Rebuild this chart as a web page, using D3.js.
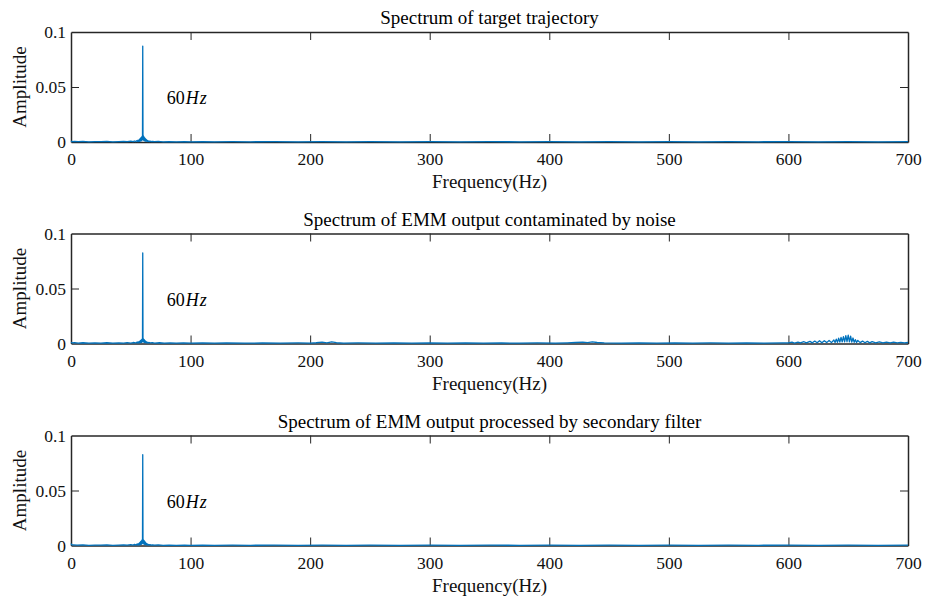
<!DOCTYPE html>
<html>
<head>
<meta charset="utf-8">
<script src="https://cdn.jsdelivr.net/npm/d3@7"></script>
<style>
  body { margin: 0; background: #fff; }
  text { font-family: "Liberation Serif", "Times New Roman", serif; }
</style>
</head>
<body>
<div id="vis"></div>
<script>
(function(){
  // panel titles
  var titles = [
    "Spectrum of target trajectory",
    "Spectrum of EMM output contaminated by noise",
    "Spectrum of EMM output processed by secondary filter"
  ];

  var xTicks = [0, 100, 200, 300, 400, 500, 600, 700];
  var yTicks = [0, 0.05, 0.1];
  var yTickLabels = ["0", "0.05", "0.1"];

  // [frequency (Hz), amplitude]
  var targetSpectrum = [
    [0,0.0008],[1,0.0004],[3,0.0006],[6,0.0003],[10,0.0005],[15,0.0002],[20,0.0004],[25,0.0003],
    [30,0.0005],[35,0.0002],[40,0.0004],[44,0.0006],[47,0.0003],[50,0.0007],[52,0.0004],[53,0.0009],
    [54,0.0004],[55,0.0012],[55.5,0.0004],[56,0.0016],[56.5,0.0005],[57,0.0022],[57.3,0.0006],
    [57.6,0.0028],[57.9,0.0008],[58.2,0.0035],[58.5,0.0010],[58.8,0.0042],[59.1,0.0012],[59.4,0.0052],
    [59.6,0.0020],[59.8,0.0065],[60,0.0872],[60.2,0.0070],[60.4,0.0022],[60.6,0.0055],[60.9,0.0014],
    [61.2,0.0045],[61.5,0.0011],[61.8,0.0036],[62.1,0.0009],[62.4,0.0028],[62.7,0.0007],[63,0.0021],
    [63.4,0.0005],[63.8,0.0015],[64.2,0.0004],[64.8,0.0010],[65.4,0.0003],[66,0.0008],[67,0.0003],
    [68,0.0006],[70,0.0003],[73,0.0005],[77,0.0002],[82,0.0004],[88,0.0002],[95,0.0003],[100,0.0002],
    [110,0.0004],[120,0.0002],[135,0.0003],[150,0.0002],[170,0.0003],[190,0.0002],[210,0.0003],
    [230,0.0002],[250,0.0003],[275,0.0002],[300,0.0003],[325,0.0002],[350,0.0003],[375,0.0002],
    [400,0.0003],[425,0.0002],[450,0.0003],[475,0.0002],[500,0.0003],[525,0.0002],[550,0.0003],
    [575,0.0002],[600,0.0003],[625,0.0002],[650,0.0003],[675,0.0002],[700,0.0003]
  ];

  var noisySpectrum = [
    [0,0.0010],[1,0.0005],[3,0.0008],[6,0.0004],[10,0.0007],[15,0.0003],[20,0.0006],[25,0.0004],
    [30,0.0007],[35,0.0003],[40,0.0006],[44,0.0004],[47,0.0008],[50,0.0004],[52,0.0009],[54,0.0005],
    [55,0.0011],[55.5,0.0005],[56,0.0014],[56.5,0.0006],[57,0.0018],[57.3,0.0006],[57.6,0.0022],
    [57.9,0.0008],[58.2,0.0027],[58.5,0.0009],[58.8,0.0032],[59.1,0.0011],[59.4,0.0040],[59.6,0.0016],
    [59.8,0.0050],[60,0.0823],[60.2,0.0055],[60.4,0.0018],[60.6,0.0042],[60.9,0.0012],[61.2,0.0034],
    [61.5,0.0010],[61.8,0.0027],[62.1,0.0008],[62.4,0.0021],[62.7,0.0007],[63,0.0016],[63.4,0.0005],
    [63.8,0.0012],[64.5,0.0005],[65,0.0010],[66,0.0005],[68,0.0008],[70,0.0004],[74,0.0007],
    [78,0.0003],[83,0.0006],[88,0.0003],[94,0.0005],[100,0.0003],[110,0.0006],[120,0.0003],[130,0.0005],
    [145,0.0003],[160,0.0005],[175,0.0003],[190,0.0005],[200,0.0004],[205,0.0007],[210,0.0012],
    [214,0.0006],[218,0.0014],[222,0.0007],[228,0.0004],[240,0.0005],[255,0.0003],[270,0.0005],
    [285,0.0003],[300,0.0005],[315,0.0003],[330,0.0005],[345,0.0003],[360,0.0005],[375,0.0003],
    [390,0.0005],[405,0.0004],[415,0.0006],[422,0.0009],[428,0.0013],[432,0.0008],[436,0.0014],
    [440,0.0009],[446,0.0005],[460,0.0004],[475,0.0006],[490,0.0003],[505,0.0005],[520,0.0003],
    [535,0.0005],[550,0.0004],[565,0.0006],[580,0.0004],[595,0.0006],
    [600,0.0006],[603,0.0012],[605,0.0004],[608,0.0013],[610,0.0005],[613,0.0016],[615,0.0005],
    [618,0.0019],[620,0.0006],[622,0.0022],[624,0.0006],[626,0.0025],[628,0.0007],[630,0.0026],
    [632,0.0008],[634,0.0028],[636,0.0008],[638,0.0032],[639,0.0009],[640,0.0040],[641,0.0010],
    [642,0.0048],[643,0.0012],[644,0.0055],[645,0.0014],[646,0.0062],[647,0.0015],[648,0.0072],
    [649,0.0016],[650,0.0076],[651,0.0015],[652,0.0066],[653,0.0013],[654,0.0050],[655,0.0011],
    [656,0.0035],[657,0.0009],[658,0.0028],[660,0.0008],[662,0.0022],[664,0.0007],[666,0.0019],
    [668,0.0006],[670,0.0017],[673,0.0006],[676,0.0015],[679,0.0005],[682,0.0013],[685,0.0005],
    [688,0.0012],[691,0.0005],[694,0.0011],[697,0.0005],[700,0.0009]
  ];

  var filteredSpectrum = [
    [0,0.0018],[0.5,0.0006],[2,0.0005],[5,0.0003],[10,0.0005],[15,0.0002],[20,0.0004],[25,0.0003],
    [30,0.0005],[35,0.0002],[40,0.0004],[44,0.0006],[47,0.0003],[50,0.0008],[52,0.0004],[53,0.0010],
    [54,0.0004],[55,0.0012],[55.5,0.0004],[56,0.0016],[56.5,0.0005],[57,0.0021],[57.3,0.0006],
    [57.6,0.0027],[57.9,0.0008],[58.2,0.0034],[58.5,0.0010],[58.8,0.0041],[59.1,0.0012],[59.4,0.0050],
    [59.6,0.0019],[59.8,0.0062],[60,0.0825],[60.2,0.0066],[60.4,0.0021],[60.6,0.0052],[60.9,0.0013],
    [61.2,0.0043],[61.5,0.0011],[61.8,0.0034],[62.1,0.0009],[62.4,0.0027],[62.7,0.0007],[63,0.0020],
    [63.4,0.0005],[63.8,0.0014],[64.2,0.0004],[64.8,0.0010],[65.4,0.0003],[66,0.0008],[67,0.0003],
    [68,0.0006],[70,0.0003],[73,0.0005],[77,0.0002],[82,0.0004],[88,0.0002],[95,0.0003],[100,0.0002],
    [110,0.0004],[120,0.0002],[135,0.0003],[150,0.0002],[170,0.0003],[190,0.0002],[210,0.0004],
    [230,0.0002],[250,0.0003],[275,0.0002],[300,0.0003],[325,0.0002],[350,0.0003],[375,0.0002],
    [400,0.0003],[425,0.0002],[450,0.0003],[475,0.0002],[500,0.0003],[525,0.0002],[550,0.0003],
    [575,0.0002],[600,0.0003],[625,0.0002],[650,0.0003],[675,0.0002],[700,0.0003]
  ];

  var series = [targetSpectrum, noisySpectrum, filteredSpectrum];

  var width = 926;
  var height = 597;
  var left = 71, right = 908;
  var panelTops = [32, 233.5, 435.5];
  var panelH = 110;
  var tickLen = 8;
  var axisColor = "#262626";
  var textColor = "#111";
  var lineColor = "#0072BD";

  var svg = d3.select("#vis")
    .append("svg")
    .attr("width", width)
    .attr("height", height);

  var x_scale = d3.scaleLinear()
    .domain([0, 700])
    .range([left, right]);

  series.forEach(function(data, i){
    var top = panelTops[i];
    var bottom = top + panelH;

    var y_scale = d3.scaleLinear()
      .domain([0, 0.1])
      .range([bottom, top]);

    var g = svg.append("g");

    // bottom + top axes (ticks pointing inward)
    var xb = g.append("g")
      .attr("transform", "translate(0," + bottom + ")")
      .call(d3.axisBottom(x_scale).tickValues(xTicks).tickSizeInner(-tickLen).tickSizeOuter(0).tickPadding(11));
    var xt = g.append("g")
      .attr("transform", "translate(0," + top + ")")
      .call(d3.axisTop(x_scale).tickValues(xTicks).tickSizeInner(-tickLen).tickSizeOuter(0).tickFormat(""));
    var yl = g.append("g")
      .attr("transform", "translate(" + left + ",0)")
      .call(d3.axisLeft(y_scale).tickValues(yTicks).tickSizeInner(-tickLen).tickSizeOuter(0)
        .tickPadding(5)
        .tickFormat(function(d, k){ return yTickLabels[k]; }));
    var yr = g.append("g")
      .attr("transform", "translate(" + right + ",0)")
      .call(d3.axisRight(y_scale).tickValues(yTicks).tickSizeInner(-tickLen).tickSizeOuter(0).tickFormat(""));

    [xb, xt, yl, yr].forEach(function(a){
      a.attr("font-family", null);
      a.select(".domain").attr("stroke", axisColor).attr("stroke-width", 1.5);
      a.selectAll(".tick line").attr("stroke", axisColor).attr("stroke-width", 1);
      a.selectAll(".tick text")
        .attr("fill", textColor)
        .style("font-size", "17.5px");
    });
    // the end ticks sit on the box edges
    xb.selectAll(".tick").filter(function(d){ return d === 0 || d === 700; }).select("line").remove();
    xt.selectAll(".tick").filter(function(d){ return d === 0 || d === 700; }).select("line").remove();
    yl.selectAll(".tick").filter(function(d){ return d === 0 || d === 0.1; }).select("line").remove();
    yr.selectAll(".tick").filter(function(d){ return d === 0 || d === 0.1; }).select("line").remove();

    // spectrum line
    var line = d3.line()
      .x(function(d){ return x_scale(d[0]); })
      .y(function(d){ return y_scale(d[1]); });

    g.append("path")
      .datum(data)
      .attr("d", line)
      .attr("fill", "none")
      .attr("stroke", lineColor)
      .attr("stroke-width", 1.3)
      .attr("stroke-linejoin", "round");

    // title
    g.append("text")
      .attr("x", (left + right) / 2)
      .attr("y", top - 8)
      .attr("text-anchor", "middle")
      .attr("fill", "#000")
      .style("font-size", "19px")
      .text(titles[i]);

    // axis labels
    g.append("text")
      .attr("x", (left + right) / 2)
      .attr("y", bottom + 46)
      .attr("text-anchor", "middle")
      .attr("fill", textColor)
      .style("font-size", "19px")
      .text("Frequency(Hz)");

    g.append("text")
      .attr("transform", "translate(26," + (top + panelH / 2) + ") rotate(-90)")
      .attr("text-anchor", "middle")
      .attr("fill", textColor)
      .style("font-size", "19px")
      .text("Amplitude");

    // peak annotation
    var note = g.append("text")
      .attr("x", x_scale(80))
      .attr("y", y_scale(0.04))
      .attr("dy", "0.35em")
      .attr("fill", "#000")
      .style("font-size", "18px");
    note.append("tspan").text("60");
    note.append("tspan").style("font-style", "italic").attr("dx", 1).text("H");
    note.append("tspan").style("font-style", "italic").attr("dx", 1).text("z");
  });
})();
</script>
</body>
</html>
